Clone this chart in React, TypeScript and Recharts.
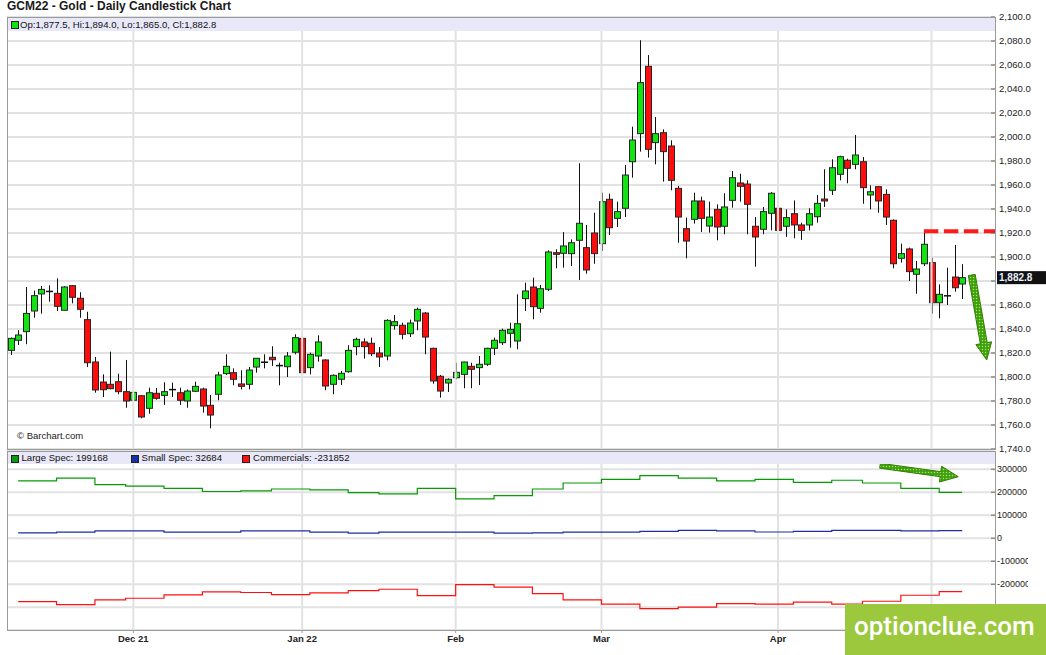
import React from "react";
import { ComposedChart, Bar, Line, XAxis, YAxis, CartesianGrid, ReferenceLine } from "recharts";

const FONT = '"Liberation Sans", Arial, Helvetica, sans-serif';

// ---- price data (GCM22 daily, Nov 8 2021 .. May 6 2022) ----
const opens = [
  1822.2, 1830.6, 1837.8, 1855.0, 1869.2, 1871.0, 1869.7, 1855.6, 1876.1, 1865.6,
  1847.8, 1812.5, 1795.8, 1793.9, 1796.1, 1787.8, 1780.6, 1784.4, 1773.9, 1786.4,
  1784.7, 1789.4, 1786.9, 1780.0, 1788.1, 1790.0, 1776.4, 1785.6, 1802.8, 1803.6,
  1794.2, 1793.9, 1808.3, 1812.2, 1816.4, 1809.4, 1808.6, 1820.6, 1832.2, 1807.8,
  1817.5, 1814.2, 1793.9, 1798.1, 1804.4, 1825.3, 1829.2, 1828.1, 1820.0, 1817.5,
  1842.8, 1843.1, 1836.1, 1846.7, 1853.3, 1823.9, 1800.6, 1795.0, 1799.4, 1802.2,
  1808.9, 1807.8, 1810.6, 1823.9, 1828.6, 1836.4, 1830.0, 1865.3, 1875.0, 1857.2,
  1873.1, 1903.6, 1903.1, 1902.8, 1913.9, 1907.8, 1920.0, 1911.1, 1948.1, 1932.2,
  1940.6, 1979.4, 2002.8, 2058.9, 1995.3, 2003.6, 1992.5, 1957.2, 1923.6, 1931.4,
  1946.7, 1925.8, 1939.7, 1925.6, 1947.2, 1961.7, 1960.8, 1925.6, 1923.1, 1936.4,
  1940.6, 1925.6, 1936.1, 1926.7, 1926.7, 1933.6, 1948.3, 1955.6, 1968.9, 1980.6,
  1977.2, 1979.4, 1951.7, 1958.6, 1952.2, 1930.6, 1898.9, 1906.7, 1885.6, 1894.4,
  1895.3, 1861.9, 1867.5, 1883.3, 1877.5,
];
const highs = [
  1833.0, 1839.0, 1875.0, 1872.0, 1875.8, 1876.4, 1882.2, 1875.8, 1876.7, 1870.6,
  1854.4, 1816.7, 1802.2, 1821.1, 1802.8, 1814.2, 1798.0, 1785.0, 1791.1, 1790.8,
  1795.6, 1795.3, 1791.1, 1789.7, 1796.1, 1791.1, 1785.0, 1804.4, 1818.9, 1807.2,
  1805.6, 1808.3, 1815.6, 1818.9, 1825.6, 1811.9, 1820.8, 1835.6, 1835.6, 1820.3,
  1834.7, 1814.7, 1802.2, 1805.0, 1826.4, 1832.8, 1832.2, 1832.8, 1825.0, 1848.1,
  1851.7, 1845.3, 1847.8, 1857.8, 1854.2, 1824.4, 1801.7, 1798.9, 1811.9, 1812.8,
  1811.9, 1817.5, 1824.4, 1832.8, 1840.3, 1845.3, 1868.9, 1878.6, 1882.8, 1876.7,
  1905.6, 1906.4, 1920.8, 1914.7, 1978.1, 1926.7, 1936.9, 1953.6, 1952.8, 1946.1,
  1976.7, 2008.6, 2080.6, 2068.3, 2016.7, 2006.4, 1997.2, 1959.2, 1932.8, 1953.6,
  1950.3, 1946.1, 1943.9, 1953.1, 1971.7, 1969.4, 1963.9, 1933.3, 1941.7, 1954.2,
  1942.5, 1939.7, 1947.2, 1928.6, 1940.6, 1951.7, 1973.1, 1981.4, 1984.4, 1981.9,
  2001.7, 1983.3, 1959.7, 1959.2, 1956.4, 1931.4, 1911.1, 1907.8, 1896.7, 1920.5,
  1899.4, 1877.2, 1891.1, 1910.0, 1894.0,
];
const lows = [
  1818.3, 1826.7, 1827.3, 1849.4, 1852.8, 1862.8, 1855.0, 1855.6, 1861.4, 1849.4,
  1808.3, 1786.9, 1783.3, 1789.7, 1785.6, 1774.4, 1776.7, 1765.6, 1769.4, 1781.1,
  1776.7, 1783.3, 1776.7, 1774.4, 1787.5, 1770.3, 1757.2, 1780.6, 1801.7, 1793.1,
  1789.7, 1789.7, 1803.6, 1807.2, 1809.2, 1793.1, 1800.0, 1818.9, 1802.2, 1802.2,
  1812.8, 1789.0, 1785.6, 1793.3, 1803.6, 1818.1, 1815.3, 1817.5, 1808.3, 1813.9,
  1839.4, 1831.4, 1833.3, 1838.9, 1818.9, 1794.4, 1782.8, 1787.5, 1798.1, 1790.6,
  1790.6, 1793.3, 1809.2, 1818.3, 1826.7, 1824.4, 1823.1, 1855.0, 1848.1, 1853.6,
  1871.7, 1890.6, 1891.1, 1892.5, 1880.8, 1886.1, 1894.4, 1905.0, 1918.3, 1925.0,
  1933.3, 1966.1, 1987.8, 1982.8, 1977.2, 1962.8, 1955.6, 1911.9, 1898.9, 1927.8,
  1920.8, 1920.3, 1913.9, 1918.9, 1941.1, 1946.1, 1918.9, 1891.9, 1918.9, 1922.2,
  1918.9, 1916.7, 1915.6, 1914.2, 1922.2, 1928.6, 1941.7, 1951.7, 1963.9, 1961.4,
  1973.1, 1944.4, 1939.7, 1936.9, 1926.7, 1890.6, 1895.3, 1880.0, 1869.4, 1892.5,
  1852.8, 1848.9, 1860.0, 1871.1, 1865.0,
];
const closes = [
  1832.2, 1835.0, 1853.0, 1867.8, 1873.0, 1871.6, 1858.9, 1875.0, 1866.4, 1856.4,
  1811.9, 1789.2, 1789.4, 1790.3, 1787.8, 1780.0, 1787.2, 1766.7, 1786.9, 1782.2,
  1787.8, 1789.6, 1780.6, 1788.3, 1792.2, 1775.8, 1768.3, 1801.7, 1808.9, 1798.1,
  1792.2, 1805.8, 1815.6, 1812.4, 1814.4, 1809.6, 1817.5, 1832.8, 1803.6, 1818.9,
  1829.2, 1792.5, 1801.4, 1803.1, 1822.2, 1831.4, 1825.3, 1819.4, 1816.7, 1847.2,
  1846.1, 1835.6, 1845.0, 1856.4, 1833.3, 1796.7, 1788.3, 1798.1, 1803.9, 1812.5,
  1806.4, 1810.6, 1823.9, 1830.6, 1838.9, 1839.7, 1844.4, 1871.7, 1858.6, 1873.6,
  1904.2, 1902.2, 1909.2, 1911.9, 1928.1, 1889.2, 1902.8, 1946.1, 1924.4, 1937.8,
  1968.3, 1997.5, 2045.3, 1989.7, 2002.8, 1987.8, 1963.9, 1933.3, 1913.3, 1946.7,
  1932.2, 1933.3, 1925.0, 1941.7, 1966.1, 1958.9, 1943.9, 1916.7, 1937.8, 1953.1,
  1922.2, 1932.8, 1926.7, 1922.2, 1936.1, 1944.7, 1946.7, 1974.4, 1983.6, 1973.9,
  1985.0, 1957.8, 1954.4, 1946.7, 1933.3, 1894.4, 1902.8, 1887.8, 1890.0, 1910.6,
  1861.9, 1868.9, 1867.8, 1874.4, 1882.8,
];

// ---- x axis: trading-day index of first session of each month ----
const monthTickIdx = [16, 38, 58, 77, 100, 120];
// the May label sits under the watermark in the reference, so it is left blank
const monthTickLabels = ["Dec 21", "Jan 22", "Feb", "Mar", "Apr", ""];

// ---- price axis ----
const priceTicks = [1740, 1760, 1780, 1800, 1820, 1840, 1860, 1880, 1900, 1920, 1940, 1960, 1980, 2000, 2020, 2040, 2060, 2080, 2100];

// ---- COT weekly net positions (report Tuesday session index) ----
const cotWeekIdx = [1, 6, 11, 15, 20, 25, 30, 34, 39, 44, 48, 53, 58, 63, 68, 72, 77, 82, 87, 92, 97, 102, 107, 111, 116, 121];
const largeSpec = [249000, 261000, 233000, 226000, 217000, 203000, 206000, 214000, 210000, 198000, 193000, 217000, 171000, 185000, 214000, 240000, 256000, 272000, 261000, 249000, 256000, 243000, 252000, 240000, 217000, 199168];
const smallSpec = [23000, 26000, 32000, 32000, 26000, 26000, 32000, 32000, 26000, 22000, 26000, 26000, 26000, 22000, 23000, 26000, 26000, 30000, 34000, 32000, 27000, 30000, 34000, 34000, 32000, 32684];
const commercials = [-276000, -289000, -268000, -261000, -246000, -233000, -236000, -245000, -238000, -228000, -222000, -250000, -202000, -213000, -241000, -268000, -287000, -306000, -300000, -284000, -287000, -278000, -287000, -274000, -248000, -231852];
const cotTicks = [-300000, -200000, -100000, 0, 100000, 200000, 300000];

// ---- derived tables ----
const lastIdx = closes.length - 1;
const candles = closes.map((c, i) => ({ i, open: opens[i], high: highs[i], low: lows[i], close: c }));
const cotData = cotWeekIdx.map((i, k) => ({ i, large: largeSpec[k], small: smallSpec[k], comm: commercials[k] }));
cotData.push({ ...cotData[cotData.length - 1], i: lastIdx });

const X_DOMAIN: [number, number] = [-0.456, 128.27];
const GREEN = "#13e313";
const RED = "#ff0c0c";
const GRID = "#e2e2e2";

const fmtPrice = (v: number) => v.toLocaleString("en-US", { minimumFractionDigits: 1, maximumFractionDigits: 1 });

function Candle(props: any) {
  const { x, y, width, height, payload } = props;
  if (x == null || y == null || !payload) return null;
  const { open, close, high, low } = payload;
  const top = Math.min(y, y + height);
  const h = Math.abs(height);
  const k = high > low ? h / (high - low) : 0;
  const py = (v: number) => top + (high - v) * k;
  const cx = Math.round(x + width / 2) + 0.5;
  const up = close >= open;
  const bTop = py(Math.max(open, close));
  const bBot = py(Math.min(open, close));
  const bw = 6;
  return (
    <g>
      <line x1={cx} x2={cx} y1={top} y2={top + h} stroke="#111" strokeWidth={1} />
      {bBot - bTop < 1.5 ? (
        <line x1={cx - 3.5} x2={cx + 3.5} y1={(bTop + bBot) / 2} y2={(bTop + bBot) / 2} stroke="#111" strokeWidth={1.5} />
      ) : (
        <rect x={cx - bw / 2} y={bTop} width={bw} height={bBot - bTop} fill={up ? GREEN : RED} stroke="#262626" strokeWidth={1} />
      )}
    </g>
  );
}

function PriceTick(props: any) {
  const { x, y, payload } = props;
  const covered = Math.abs(payload.value - closes[lastIdx]) < 6;
  return (
    <g>
      <line x1={x - 4} x2={x} y1={y} y2={y} stroke="#666" strokeWidth={1} />
      {!covered && (
        <text x={x + 4} y={y} dy="0.35em" fontSize={9.5} fill="#222" fontFamily={FONT}>
          {fmtPrice(payload.value)}
        </text>
      )}
    </g>
  );
}

function CotTick(props: any) {
  const { x, y, payload } = props;
  return (
    <g>
      <line x1={x - 4} x2={x} y1={y} y2={y} stroke="#666" strokeWidth={1} />
      <text x={x + 2} y={y} dy="0.35em" fontSize={9} fill="#222" fontFamily={FONT}>
        {String(payload.value)}
      </text>
    </g>
  );
}

function PriceTag(props: any) {
  const vb = props.viewBox || {};
  const xr = (vb.x || 0) + (vb.width || 0);
  const yy = vb.y || 0;
  return (
    <g>
      <rect x={xr + 2} y={yy - 6.5} width={52} height={13} fill="#111" />
      <text x={xr + 4} y={yy} dy="0.36em" fontSize={10} fontWeight={700} fill="#e8f0ff" fontFamily={FONT}>
        {fmtPrice(closes[lastIdx])}
      </text>
    </g>
  );
}

function Arrow(props: any) {
  const { x1, y1, x2, y2, shaft, head, headLen, pid } = props;
  if (x1 == null) return null;
  const dx = x2 - x1, dy = y2 - y1;
  const L = Math.hypot(dx, dy) || 1;
  const ux = dx / L, uy = dy / L;
  const nx = -uy, ny = ux;
  const bx = x2 - ux * headLen, by = y2 - uy * headLen;
  const s = shaft / 2, hh = head / 2;
  const pts = [
    [x1 + nx * s, y1 + ny * s],
    [bx + nx * s, by + ny * s],
    [bx + nx * hh, by + ny * hh],
    [x2, y2],
    [bx - nx * hh, by - ny * hh],
    [bx - nx * s, by - ny * s],
    [x1 - nx * s, y1 - ny * s],
  ].map((p) => p.join(",")).join(" ");
  return (
    <g>
      <defs>
        <pattern id={pid} width={3} height={3} patternUnits="userSpaceOnUse">
          <rect width={3} height={3} fill="#3f9f0c" />
          <circle cx={1.5} cy={1.5} r={0.75} fill="#a6e36a" />
        </pattern>
      </defs>
      <polygon points={pts} fill={`url(#${pid})`} stroke="#2f7f05" strokeWidth={1} strokeLinejoin="round" />
    </g>
  );
}

const legendText: React.CSSProperties = { fontSize: 9.6, color: "#111", fontFamily: FONT, whiteSpace: "nowrap" };

function Swatch({ color, left }: { color: string; left: number }) {
  return (
    <div style={{ position: "absolute", left, top: 3, width: 6, height: 6, background: color, border: "1px solid #222" }} />
  );
}

export default function App() {
  const last = candles[lastIdx];
  const lastCot = cotData[cotData.length - 1];
  return (
    <div style={{ position: "relative", width: 1046, height: 655, overflow: "hidden", background: "#fff", fontFamily: FONT }}>
      <style>{"body{margin:0;}"}</style>

      {/* main candlestick panel */}
      <div style={{ position: "absolute", left: 0, top: 0 }}>
        <ComposedChart width={1046} height={460} data={candles} margin={{ top: 17, right: 0, bottom: 11, left: 7 }}>
          <CartesianGrid vertical={false} stroke={GRID} strokeWidth={2} />
          <XAxis type="number" dataKey="i" domain={X_DOMAIN} hide allowDataOverflow />
          <YAxis
            orientation="right"
            width={51}
            domain={[1740, 2100]}
            ticks={priceTicks}
            interval={0}
            axisLine={false}
            tickLine={false}
            tickSize={0}
            tickMargin={0}
            allowDataOverflow
            tick={(p: any) => <PriceTick {...p} />}
          />
          {monthTickIdx.map((m) => (
            <ReferenceLine key={"mg" + m} x={m} stroke={GRID} strokeWidth={2} />
          ))}
          <Bar
            dataKey={(d: any) => [d.low, d.high]}
            barSize={6}
            isAnimationActive={false}
            shape={(p: any) => <Candle {...p} />}
          />
          <ReferenceLine
            segment={[{ x: 119, y: 1921.5 }, { x: 128.27, y: 1921.5 }]}
            stroke="#ff1a1a"
            strokeWidth={4}
            strokeDasharray="14.5 5.5"
          />
          <ReferenceLine
            segment={[{ x: 125.24, y: 1885 }, { x: 127.19, y: 1814.2 }]}
            shape={(p: any) => <Arrow {...p} shaft={7} head={16} headLen={17} pid="dotsA" />}
          />
          <ReferenceLine y={closes[lastIdx]} stroke="none" label={<PriceTag />} />
        </ComposedChart>
      </div>

      {/* COT panel */}
      <div style={{ position: "absolute", left: 0, top: 0, width: 1028, height: 655, overflow: "hidden" }}>
        <ComposedChart width={1046} height={655} data={cotData} margin={{ top: 451, right: 0, bottom: 0, left: 7 }}>
          <CartesianGrid vertical={false} stroke={GRID} strokeWidth={2} />
          <XAxis
            type="number"
            dataKey="i"
            domain={X_DOMAIN}
            ticks={monthTickIdx}
            interval={0}
            allowDataOverflow
            height={25}
            axisLine={false}
            tickSize={3}
            tickLine={{ stroke: "#999" }}
            tickFormatter={(v: number) => monthTickLabels[monthTickIdx.indexOf(v)] || ""}
            tick={{ fontSize: 9.5, fontWeight: 700, fill: "#222", fontFamily: FONT }}
          />
          <YAxis
            orientation="right"
            width={51}
            domain={[-399100, 379100]}
            ticks={cotTicks}
            interval={0}
            axisLine={false}
            tickLine={false}
            tickSize={0}
            tickMargin={0}
            allowDataOverflow
            tick={(p: any) => <CotTick {...p} />}
          />
          {monthTickIdx.map((m) => (
            <ReferenceLine key={"cg" + m} x={m} stroke={GRID} strokeWidth={2} />
          ))}
          <Line type="stepAfter" dataKey="large" stroke="#069a06" strokeWidth={1.2} dot={false} isAnimationActive={false} />
          <Line type="stepAfter" dataKey="small" stroke="#1b2fa3" strokeWidth={1.2} dot={false} isAnimationActive={false} />
          <Line type="stepAfter" dataKey="comm" stroke="#ff1010" strokeWidth={1.2} dot={false} isAnimationActive={false} />
          <ReferenceLine
            segment={[{ x: 113.29, y: 315200 }, { x: 123.49, y: 267400 }]}
            shape={(p: any) => <Arrow {...p} shaft={5} head={16} headLen={18} pid="dotsB" />}
          />
        </ComposedChart>
      </div>

      {/* title */}
      <div style={{ position: "absolute", left: 7, top: 0, fontSize: 12, fontWeight: 700, color: "#1a1a1a", lineHeight: "12px", whiteSpace: "nowrap" }}>
        GCM22 - Gold - Daily Candlestick Chart
      </div>

      {/* main legend band */}
      <div style={{ position: "absolute", left: 8, top: 18, width: 987, height: 13, background: "#e8e8f8" }}>
        <Swatch color={GREEN} left={3} />
        <div style={{ ...legendText, position: "absolute", left: 12, top: 0, lineHeight: "13px" }}>
          {`Op:${fmtPrice(last.open)}, Hi:${fmtPrice(last.high)}, Lo:${fmtPrice(last.low)}, Cl:${fmtPrice(last.close)}`}
        </div>
      </div>

      {/* COT legend band */}
      <div style={{ position: "absolute", left: 8, top: 452, width: 987, height: 12, background: "#e8e8f8" }}>
        <Swatch color="#0a9a0a" left={3} />
        <div style={{ ...legendText, position: "absolute", left: 13.5, top: 0, lineHeight: "12px" }}>{`Large Spec: ${lastCot.large}`}</div>
        <Swatch color="#1b2fa3" left={122.5} />
        <div style={{ ...legendText, position: "absolute", left: 133.5, top: 0, lineHeight: "12px" }}>{`Small Spec: ${lastCot.small}`}</div>
        <Swatch color="#ff1010" left={234} />
        <div style={{ ...legendText, position: "absolute", left: 245, top: 0, lineHeight: "12px" }}>{`Commercials: ${lastCot.comm}`}</div>
      </div>

      {/* panel frames */}
      <div style={{ position: "absolute", left: 7, top: 17, width: 989, height: 433, border: "1px solid #9a9a9a", boxSizing: "border-box", pointerEvents: "none" }} />
      <div style={{ position: "absolute", left: 7, top: 451, width: 989, height: 180, border: "1px solid #9a9a9a", boxSizing: "border-box", pointerEvents: "none" }} />

      <div style={{ position: "absolute", left: 17, top: 430, fontSize: 9.5, color: "#222", lineHeight: "12px", whiteSpace: "nowrap" }}>
        © Barchart.com
      </div>

      {/* watermark */}
      <div style={{ position: "absolute", left: 845, top: 604, width: 201, height: 51, background: "#9bc83d" }}>
        <div style={{ position: "absolute", left: 9, top: 9, fontSize: 26, lineHeight: "26px", color: "#fff", fontFamily: "Roboto, 'Open Sans', sans-serif", fontWeight: 500, whiteSpace: "nowrap" }}>
          optionclue.com
        </div>
      </div>
    </div>
  );
}
